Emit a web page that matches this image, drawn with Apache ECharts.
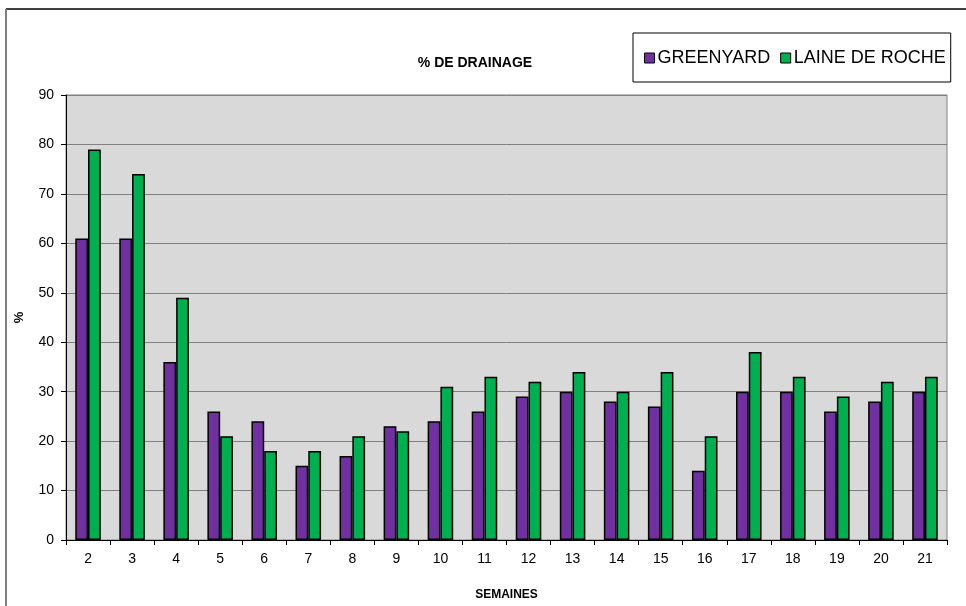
<!DOCTYPE html>
<html lang="fr">
<head>
  <meta charset="UTF-8">
  <title>% de drainage</title>
  <script src="https://cdn.jsdelivr.net/npm/echarts@6/dist/echarts.min.js"></script>
  <style>
    html, body, #chart { width: 100%; height: 100%; margin: 0; padding: 0; background: #fff; }
  </style>
</head>
<body>
  <div id="chart"></div>
  <script>
    const weeks = ['2','3','4','5','6','7','8','9','10','11','12','13','14','15','16','17','18','19','20','21']
    const greenyard = [61, 61, 36, 26, 24, 15, 17, 23, 24, 26, 29, 30, 28, 27, 14, 30, 30, 26, 28, 30]
    const laineDeRoche = [79, 74, 49, 21, 18, 18, 21, 22, 31, 33, 32, 34, 30, 34, 21, 38, 33, 29, 32, 33]

    const font = 'Arial, "Liberation Sans", sans-serif'
    const chart = echarts.init(document.getElementById('chart'))

    chart.setOption({
      animation: false,
      textStyle: { fontFamily: font },
      title: {
        text: '% DE DRAINAGE',
        left: 470, top: 51, textAlign: 'center',
        textStyle: { fontSize: 14, fontWeight: 'bold', color: '#000', fontFamily: font }
      },
      legend: {
        left: 633, top: 33,
        padding: [16, 5, 15, 11],
        borderColor: '#000', borderWidth: 1,
        itemWidth: 10, itemHeight: 10, itemGap: 10,
        icon: 'rect',
        itemStyle: { borderColor: '#000', borderWidth: 1 },
        textStyle: { fontSize: 18, color: '#000', fontFamily: font, padding: [0, 0, 0, -2] },
        data: ['GREENYARD', 'LAINE DE ROCHE']
      },
      graphic: [
        { type: 'line', shape: { x1: 6, y1: 9, x2: 966, y2: 9 }, style: { stroke: '#000', lineWidth: 1.5 } },
        { type: 'line', shape: { x1: 6, y1: 9, x2: 6, y2: 606 }, style: { stroke: '#808080', lineWidth: 2 } }
      ],
      grid: {
        left: 66, top: 95, width: 881, height: 450,
        show: true, backgroundColor: '#d9d9d9', borderColor: '#808080', borderWidth: 1
      },
      xAxis: {
        type: 'category',
        data: weeks,
        name: 'SEMAINES',
        nameLocation: 'middle',
        nameGap: 49,
        nameTextStyle: { fontSize: 12, fontWeight: 'bold', color: '#000' },
        axisLine: { lineStyle: { color: '#000', width: 1 } },
        axisTick: { show: true, length: 5, alignWithLabel: false, lineStyle: { color: '#000' } },
        axisLabel: { fontSize: 14, color: '#000', margin: 12 }
      },
      yAxis: {
        type: 'value',
        min: 0, max: 90, interval: 10,
        name: '%',
        nameLocation: 'middle',
        nameGap: 40,
        nameRotate: 90,
        nameTextStyle: { fontSize: 13, fontWeight: 'bold', color: '#000' },
        axisLine: { show: true, lineStyle: { color: '#000', width: 1 } },
        axisTick: { show: true, length: 5, lineStyle: { color: '#000' } },
        axisLabel: { fontSize: 14, color: '#000', margin: 12 },
        splitLine: { lineStyle: { color: '#808080', width: 1 } }
      },
      series: [
        {
          name: 'GREENYARD', type: 'bar', data: greenyard,
          barGap: '0%', barCategoryGap: '42%',
          itemStyle: { color: '#7030a0', borderColor: '#000', borderWidth: 1.5 }
        },
        {
          name: 'LAINE DE ROCHE', type: 'bar', data: laineDeRoche,
          itemStyle: { color: '#00b050', borderColor: '#000', borderWidth: 1.5 }
        }
      ]
    })
  </script>
</body>
</html>
